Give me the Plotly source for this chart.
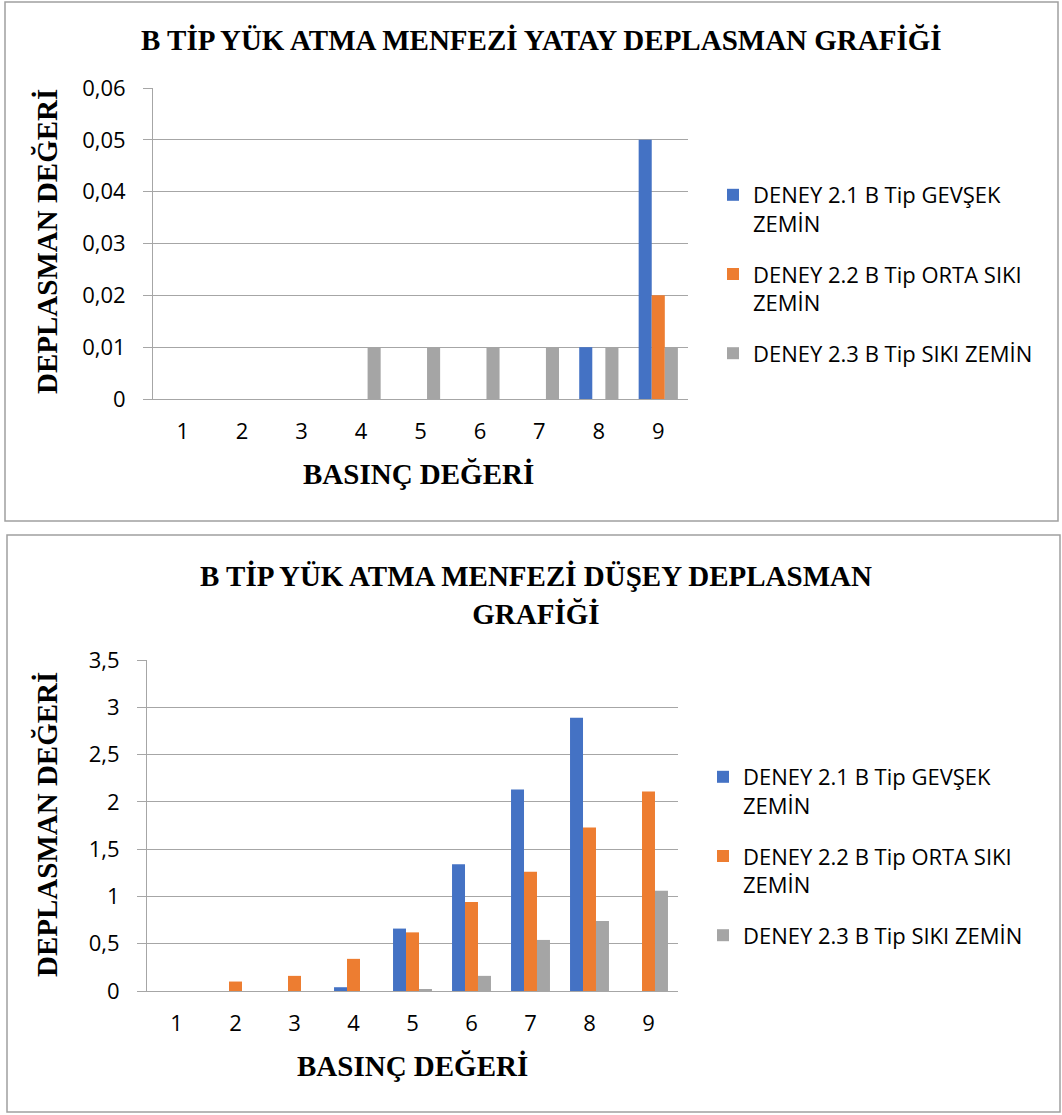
import plotly.graph_objects as go

W, H = 1062, 1115

categories = ["1", "2", "3", "4", "5", "6", "7", "8", "9"]
series_names = [
    "DENEY 2.1 B Tip GEVŞEK<br>ZEMİN",
    "DENEY 2.2 B Tip ORTA SIKI<br>ZEMİN",
    "DENEY 2.3 B Tip SIKI ZEMİN",
]
colors = ["#4472C4", "#ED7D31", "#A5A5A5"]

# Top chart: horizontal (yatay) displacement
yatay_gevsek = [0, 0, 0, 0, 0, 0, 0, 0.01, 0.05]
yatay_orta = [0, 0, 0, 0, 0, 0, 0, 0, 0.02]
yatay_siki = [0, 0, 0, 0.01, 0.01, 0.01, 0.01, 0.01, 0.01]

# Bottom chart: vertical (düşey) displacement
dusey_gevsek = [0, 0, 0, 0.04, 0.66, 1.34, 2.13, 2.89, 0]
dusey_orta = [0, 0.10, 0.16, 0.34, 0.62, 0.94, 1.26, 1.73, 2.11]
dusey_siki = [0, 0, 0, 0, 0.02, 0.16, 0.54, 0.74, 1.06]

top_title = "<b>B TİP YÜK ATMA MENFEZİ YATAY DEPLASMAN GRAFİĞİ</b>"
bottom_title = "<b>B TİP YÜK ATMA MENFEZİ DÜŞEY DEPLASMAN<br>GRAFİĞİ</b>"
x_title = "<b>BASINÇ DEĞERİ</b>"
y_title = "<b>DEPLASMAN DEĞERİ</b>"


def px(x):
    return x / W


def py(y):
    return 1 - y / H


fig = go.Figure()

for i, (vals, name, col) in enumerate(zip([yatay_gevsek, yatay_orta, yatay_siki], series_names, colors)):
    fig.add_trace(go.Bar(x=categories, y=vals, name=name, marker_color=col,
                         marker_line_width=0, xaxis="x", yaxis="y", legend="legend",
                         legendgroup=f"top{i}"))
for i, (vals, name, col) in enumerate(zip([dusey_gevsek, dusey_orta, dusey_siki], series_names, colors)):
    fig.add_trace(go.Bar(x=categories, y=vals, name=name, marker_color=col,
                         marker_line_width=0, xaxis="x2", yaxis="y2", legend="legend2",
                         legendgroup=f"bot{i}"))

grid = "#a6a6a6"
tickfont = dict(family="Open Sans", size=22, color="#000")
serif_bold = dict(family="Liberation Serif", size=29, color="#000")
legfont = dict(family="Open Sans", size=22, color="#000")

common_x = dict(type="category", showgrid=False, showline=True, linecolor=grid,
                linewidth=1, ticks="", tickfont=tickfont, fixedrange=True,
                ticklabelstandoff=13)
common_y = dict(showgrid=True, gridcolor=grid, gridwidth=1, showline=True, linecolor=grid,
                ticks="outside", ticklen=9, tickcolor=grid, tickfont=tickfont,
                zeroline=False, fixedrange=True, ticklabelstandoff=13)

fig.update_layout(
    width=W, height=H,
    margin=dict(l=0, r=0, t=0, b=0, autoexpand=False),
    paper_bgcolor="white", plot_bgcolor="white",
    separators=",.",
    barmode="group", bargap=0.34, bargroupgap=0,
    xaxis=dict(domain=[px(153), px(688)], anchor="y", **common_x),
    yaxis=dict(domain=[py(399), py(88)], anchor="x", range=[0, 0.06], dtick=0.01, **common_y),
    xaxis2=dict(domain=[px(147), px(678)], anchor="y2", **common_x),
    yaxis2=dict(domain=[py(991), py(660)], anchor="x2", range=[0, 3.5], dtick=0.5, **common_y),
    legend=dict(x=px(713), y=py(174), xanchor="left", yanchor="top", font=legfont,
                valign="top", tracegroupgap=19, bgcolor="rgba(0,0,0,0)"),
    legend2=dict(x=px(703), y=py(756), xanchor="left", yanchor="top", font=legfont,
                 valign="top", tracegroupgap=19, bgcolor="rgba(0,0,0,0)"),
    showlegend=True,
)

ann = []
ann.append(dict(text=top_title, x=px(541), y=py(40), xref="paper", yref="paper",
                showarrow=False, font=serif_bold, xanchor="center", yanchor="middle"))
ann.append(dict(text=bottom_title, x=px(536), y=py(595), xref="paper", yref="paper",
                showarrow=False, font=serif_bold, xanchor="center", yanchor="middle"))
for ytc, xc, yx in [(242, 418, 474), (825, 412, 1066)]:
    ann.append(dict(text=y_title, x=px(47), y=py(ytc), xref="paper", yref="paper",
                    showarrow=False, font=serif_bold, textangle=-90,
                    xanchor="center", yanchor="middle"))
    ann.append(dict(text=x_title, x=px(xc), y=py(yx), xref="paper", yref="paper",
                    showarrow=False, font=serif_bold, xanchor="center", yanchor="middle"))
fig.update_layout(annotations=ann)

border = dict(color="#a0a0a0", width=1.5)
fig.update_layout(shapes=[
    dict(type="rect", xref="paper", yref="paper", x0=px(5), x1=px(1058), y0=py(521), y1=py(2),
         line=border, fillcolor="rgba(0,0,0,0)"),
    dict(type="rect", xref="paper", yref="paper", x0=px(7), x1=px(1060), y0=py(1112), y1=py(535),
         line=border, fillcolor="rgba(0,0,0,0)"),
])

fig.write_html("out.html")
